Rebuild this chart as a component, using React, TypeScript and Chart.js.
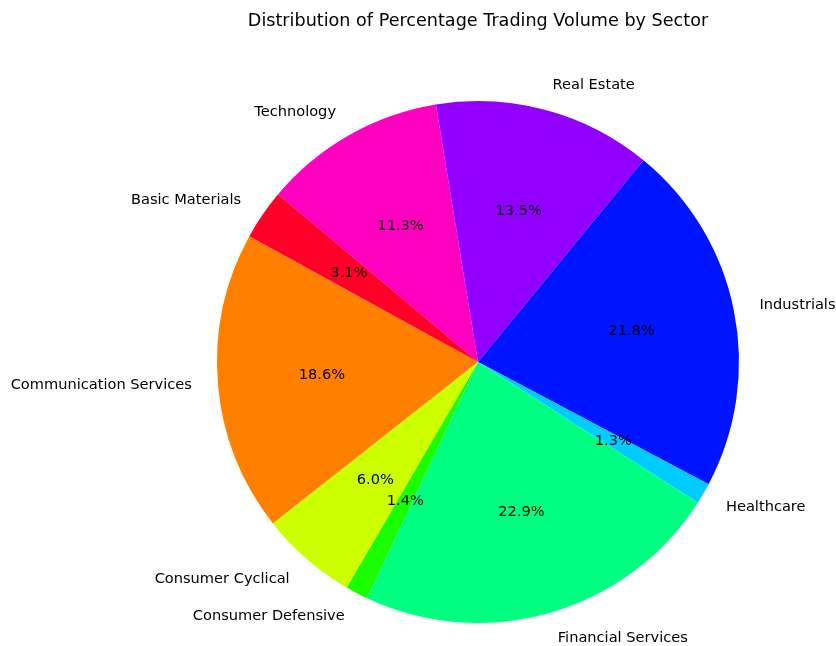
import React, { useEffect, useRef } from "react";
import { Chart, registerables } from "chart.js";

Chart.register(...registerables);

const sectors = [
  "Basic Materials",
  "Communication Services",
  "Consumer Cyclical",
  "Consumer Defensive",
  "Financial Services",
  "Healthcare",
  "Industrials",
  "Real Estate",
  "Technology",
];
const shares = [3.1, 18.6, 6.0, 1.4, 22.9, 1.3, 21.8, 13.5, 11.3];
const colors = [
  "#ff0029",
  "#ff8000",
  "#ccff00",
  "#1aff00",
  "#00ff80",
  "#00ccff",
  "#0015ff",
  "#9100ff",
  "#ff00bf",
];
const title = "Distribution of Percentage Trading Volume by Sector";

const FONT = "'DejaVu Sans', sans-serif";

const labelPlugin = {
  id: "pieLabels",
  afterDatasetsDraw(chart: any) {
    const ctx = chart.ctx;
    const meta = chart.getDatasetMeta(0);
    const data = chart.data.datasets[0].data as number[];
    const labels = chart.data.labels as string[];
    const total = data.reduce((a, b) => a + b, 0);
    ctx.save();
    ctx.fillStyle = "#000";
    ctx.textBaseline = "middle";
    meta.data.forEach((arc: any, i: number) => {
      const { x, y, startAngle, endAngle, outerRadius } = arc.getProps(
        ["x", "y", "startAngle", "endAngle", "outerRadius"],
        true
      );
      const mid = (startAngle + endAngle) / 2;
      const c = Math.cos(mid);
      const s = Math.sin(mid);
      ctx.font = `14.6px ${FONT}`;
      ctx.textAlign = c > 0 ? "left" : "right";
      ctx.fillText(labels[i], x + c * outerRadius * 1.1, y + s * outerRadius * 1.1);
      ctx.textAlign = "center";
      const pct = ((data[i] / total) * 100).toFixed(1) + "%";
      ctx.fillText(pct, x + c * outerRadius * 0.6, y + s * outerRadius * 0.6);
    });
    ctx.font = `17.6px ${FONT}`;
    ctx.textAlign = "center";
    ctx.fillText(title, 478, 21);
    ctx.restore();
  },
};

export default function App() {
  const ref = useRef<HTMLCanvasElement | null>(null);
  useEffect(() => {
    document.body.style.margin = "0";
    const labels = [...sectors].reverse();
    const values = [...shares].reverse();
    const bg = [...colors].reverse();
    const chart = new Chart(ref.current as HTMLCanvasElement, {
      type: "pie",
      data: {
        labels,
        datasets: [
          {
            data: values,
            backgroundColor: bg,
            borderWidth: 0,
          },
        ],
      },
      options: {
        responsive: false,
        animation: false,
        rotation: -50,
        layout: { padding: { left: 217, right: 97, top: 101, bottom: 23 } },
        plugins: {
          legend: { display: false },
          title: { display: false },
          tooltip: { enabled: false },
        },
      },
      plugins: [labelPlugin],
    });
    return () => chart.destroy();
  }, []);
  return (
    <div style={{ width: 836, height: 646, background: "#fff" }}>
      <canvas ref={ref} width={836} height={646} style={{ display: "block" }} />
    </div>
  );
}
